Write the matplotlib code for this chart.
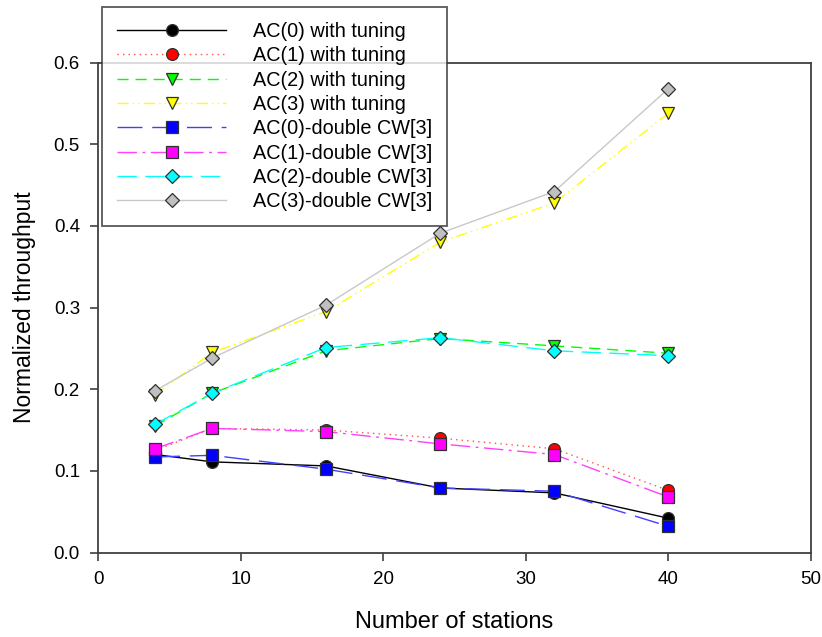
import matplotlib
matplotlib.use("Agg")
import matplotlib.pyplot as plt

plt.rcParams['font.family'] = ['Liberation Sans', 'DejaVu Sans']

stations = [4, 8, 16, 24, 32, 40]

ac0_tuning = [0.120, 0.111, 0.106, 0.079, 0.073, 0.042]
ac1_tuning = [0.125, 0.152, 0.150, 0.140, 0.127, 0.076]
ac2_tuning = [0.155, 0.195, 0.247, 0.262, 0.253, 0.244]
ac3_tuning = [0.193, 0.245, 0.295, 0.380, 0.428, 0.538]
ac0_cw = [0.117, 0.119, 0.102, 0.079, 0.075, 0.032]
ac1_cw = [0.127, 0.152, 0.148, 0.133, 0.120, 0.068]
ac2_cw = [0.157, 0.195, 0.251, 0.263, 0.247, 0.241]
ac3_cw = [0.198, 0.238, 0.303, 0.391, 0.442, 0.568]

labels = ["AC(0) with tuning", "AC(1) with tuning", "AC(2) with tuning",
          "AC(3) with tuning", "AC(0)-double CW[3]", "AC(1)-double CW[3]",
          "AC(2)-double CW[3]", "AC(3)-double CW[3]"]

x_ticks = [0, 10, 20, 30, 40, 50]
y_ticks = [0.0, 0.1, 0.2, 0.3, 0.4, 0.5, 0.6]

series = [ac0_tuning, ac1_tuning, ac2_tuning, ac3_tuning,
          ac0_cw, ac1_cw, ac2_cw, ac3_cw]
styles = [
    dict(color='black', ls='-', marker='o', mfc='black', ms=8.5),
    dict(color='#ff5050', ls=(0, (1, 3)), marker='o', mfc='red', ms=8.5),
    dict(color='#00ff00', ls=(0, (8, 5)), marker='v', mfc='#00ff00', ms=9),
    dict(color='#ffff00', ls=(0, (8, 3, 1, 3, 1, 3)), marker='v', mfc='#ffff00', ms=9),
    dict(color='#4040ff', ls=(0, (18, 7)), marker='s', mfc='#0000ff', ms=8),
    dict(color='#ff40ff', ls=(0, (14, 4, 2, 4)), marker='s', mfc='#ff00ff', ms=8),
    dict(color='#00ffff', ls=(0, (14, 6)), marker='D', mfc='#00ffff', ms=7.5),
    dict(color='#c8c8c8', ls='-', marker='D', mfc='#c0c0c0', ms=7.5),
]

fig = plt.figure(figsize=(8.22, 6.37), dpi=100)
ax = fig.add_axes([98/822, 1-552.5/637, (811-98)/822, (552.5-62.5)/637])

for vals, lab, st in zip(series, labels, styles):
    ax.plot(stations, vals, color=st['color'], linestyle=st['ls'], lw=1.0,
            marker=st['marker'], markerfacecolor=st['mfc'],
            markeredgecolor='#303030', markeredgewidth=0.9,
            markersize=st['ms'], label=lab)

ax.set_xlim(0, 50)
ax.set_ylim(0, 0.6)
ax.set_xticks(x_ticks)
ax.set_xticklabels([str(t) for t in x_ticks])
ax.set_yticks(y_ticks)
ax.set_yticklabels([f"{t:.1f}" for t in y_ticks])
ax.tick_params(direction='out', length=6, width=1.2, color='#404040',
               labelsize=13.5, pad=7)
for sp in ax.spines.values():
    sp.set_color('#404040')
    sp.set_linewidth(1.3)

ax.set_xlabel("Number of stations", fontsize=17, labelpad=17)
ax.set_ylabel("Normalized throughput", fontsize=16.5, labelpad=13)

leg = ax.legend(loc='upper left', bbox_to_anchor=(102/822, 1-7/637),
                bbox_transform=fig.transFigure, fontsize=14.3, frameon=True,
                fancybox=False, handlelength=5.5, handletextpad=1.36,
                labelspacing=0.27, borderpad=0.75, borderaxespad=0,
                markerfirst=True)
leg.get_frame().set_edgecolor('#303030')
leg.get_frame().set_linewidth(1.3)
leg.set_zorder(10)

fig.savefig("out.png", dpi=100)
